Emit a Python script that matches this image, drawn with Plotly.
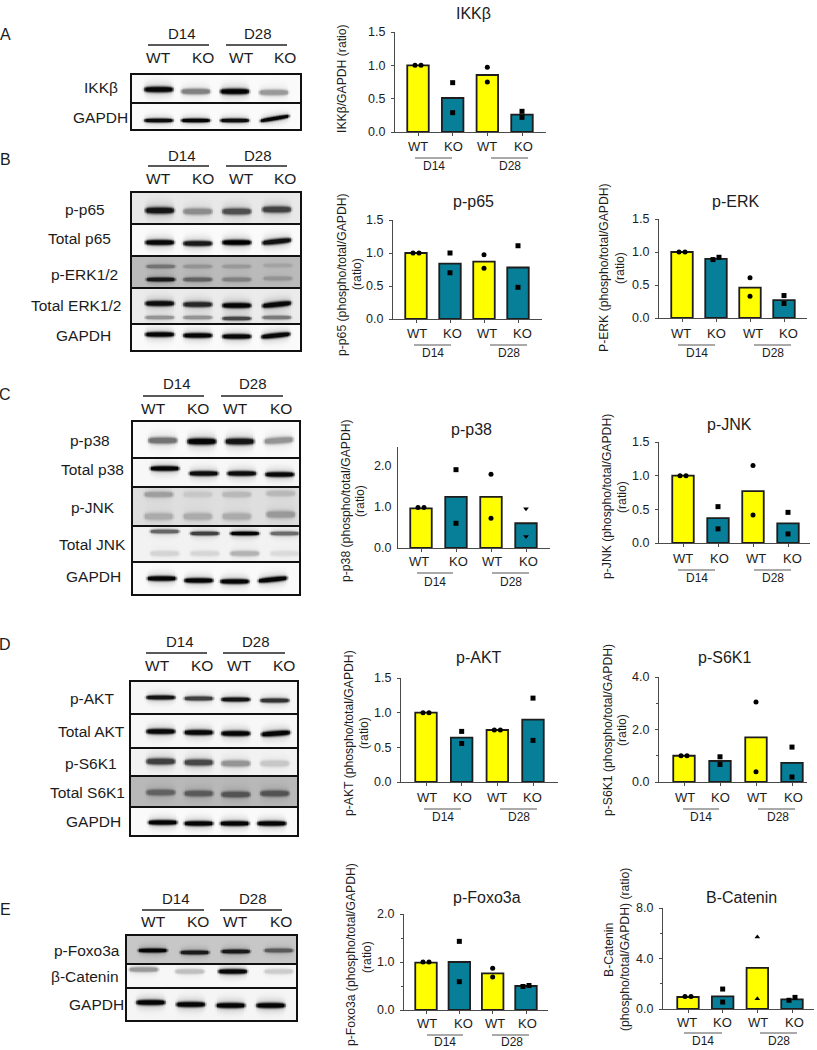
import numpy as np
import plotly.graph_objects as go

W, H = 817, 1050
FONT = "Liberation Sans"
INK = "#1c1c1c"
AXIS = "#4a4a4a"
YELLOW = "#FFFF00"
TEAL = "#087F99"

# ---------- bar chart data ----------
bar_ikkb = [1.00, 0.51, 0.855, 0.26]
pts_ikkb = [[1.00, 1.00], [0.74, 0.29], [0.97, 0.75], [0.31, 0.22]]
bar_p65 = [1.00, 0.84, 0.87, 0.78]
pts_p65 = [[1.00, 1.00], [1.00, 0.70], [0.975, 0.77], [1.11, 0.48]]
bar_erk = [1.00, 0.895, 0.46, 0.27]
pts_erk = [[1.00, 1.00], [0.885, 0.92], [0.61, 0.33], [0.34, 0.22]]
bar_p38 = [0.96, 1.24, 1.24, 0.60]
pts_p38 = [[0.98, 0.98], [1.90, 0.60], [1.79, 0.72], [0.95, 0.28]]
bar_jnk = [1.00, 0.37, 0.77, 0.29]
pts_jnk = [[1.00, 1.00], [0.54, 0.21], [1.15, 0.415], [0.455, 0.135]]
bar_akt = [1.00, 0.64, 0.75, 0.90]
pts_akt = [[1.00, 1.00], [0.73, 0.555], [0.75, 0.75], [1.21, 0.60]]
bar_s6k = [1.00, 0.80, 1.70, 0.73]
pts_s6k = [[1.00, 1.00], [0.96, 0.67], [3.05, 0.39], [1.33, 0.19]]
bar_fox = [0.985, 1.00, 0.765, 0.50]
pts_fox = [[1.00, 1.00], [1.43, 0.59], [0.87, 0.69], [0.49, 0.51]]
bar_cat = [0.95, 1.00, 3.25, 0.77]
pts_cat = [[1.00, 1.00], [1.58, 0.55], [5.70, 0.82], [0.69, 0.92]]

genotypes = ["WT", "KO", "WT", "KO"]
days = ["D14", "D28"]
base_symbols = ["circle", "square", "circle", "square"]

# ---------- blot band darkness per lane, 0 white .. 1 black ----------
d_ikkb = [[.97, .50, .98, .40]]
d_gapdh_a = [[.95, .98, .95, .98]]
d_p65 = [[.92, .45, .70, .75]]
d_tp65 = [[.97, .90, 1.0, .93]]
d_perk = [[.55, .42, .40, .36], [.90, .62, .50, .42]]
d_terk = [[.95, .85, .98, .97], [.42, .42, .72, .52]]
d_gapdh_b = [[.98, .98, .97, .97]]
d_p38 = [[.55, .98, .92, .42]]
d_tp38 = [[.98, .95, .95, .97]]
d_pjnk = [[.38, .22, .28, .28], [.33, .33, .33, .40]]
d_tjnk = [[.60, .75, .98, .58], [.17, .16, .30, .14]]
d_gapdh_c = [[.98, .98, .98, .98]]
d_pakt = [[.92, .75, .92, .80]]
d_takt = [[.97, .97, .98, .98]]
d_ps6k = [[.75, .72, .42, .22]]
d_ts6k = [[.62, .65, .68, .68]]
d_gapdh_d = [[.98, .98, .98, .98]]
d_pfox = [[.98, .90, .90, .65]]
d_bcat = [[.40, .25, .97, .20]]
d_gapdh_e = [[.98, .98, .98, .98]]

# ---------- layout of the blots (pixels in the page) ----------
blots = [
    dict(letter="A", letter_y=34, x=(132, 300), head=dict(top=33, rule=45, geno=58, d=(182, 258),
         rules=((148, 209), (226, 287)), g=(158, 203, 241, 285)),
         strips=[
            dict(label="IKKβ", pos=(101, 88), y=(75, 104), bg=.02, d=d_ikkb, lanes=(158, 195, 234, 273),
                 bands=[dict(yc=(89, 91, 91, 92), t=3.2)]),
            dict(label="GAPDH", pos=(100, 117), y=(104, 129), bg=.02, d=d_gapdh_a, lanes=(158, 195, 234, 274),
                 bands=[dict(yc=(120, 120, 120, 118), t=2.3, tilt=(0, 0, 0, -5))]),
         ]),
    dict(letter="B", letter_y=159, x=(132, 300), head=dict(top=155, rule=166, geno=179, d=(182, 258),
         rules=((148, 209), (226, 287)), g=(158, 203, 241, 285)),
         strips=[
            dict(label="p-p65", pos=(85, 210), y=(193, 225), bg=.09, d=d_p65, lanes=(159, 197, 236, 276),
                 bands=[dict(yc=(210, 211, 211, 209), t=3.6)]),
            dict(label="Total p65", pos=(79, 238), y=(225, 257), bg=.02, d=d_tp65, lanes=(159, 197, 236, 276),
                 bands=[dict(yc=(242, 243, 242, 241), t=3, tilt=(0, 0, 0, -3))]),
            dict(label="p-ERK1/2", pos=(84, 275), y=(257, 289), bg=.27, d=d_perk, lanes=(160, 197, 236, 277),
                 bands=[dict(yc=(266, 266, 266, 265), t=2.2), dict(yc=(279, 279, 279, 278), t=2.4)]),
            dict(label="Total ERK1/2", pos=(76, 305), y=(289, 325), bg=.08, d=d_terk, lanes=(159, 197, 236, 276),
                 bands=[dict(yc=(303, 304, 305, 304), t=3, tilt=(0, 0, 0, -3)), dict(yc=(317, 317, 318, 317), t=2.2)]),
            dict(label="GAPDH", pos=(83, 335), y=(325, 350), bg=.02, d=d_gapdh_b, lanes=(159, 197, 236, 275),
                 bands=[dict(yc=(334, 335, 336, 335), t=2.8, tilt=(0, 0, 0, -3))]),
         ]),
    dict(letter="C", letter_y=394, x=(133, 299), head=dict(top=384, rule=396, geno=408, d=(177, 253),
         rules=((143, 204), (221, 283)), g=(153, 198, 236, 281)),
         strips=[
            dict(label="p-p38", pos=(90, 441), y=(422, 459), bg=.02, d=d_p38, lanes=(162, 201, 239, 278),
                 bands=[dict(yc=(440, 441, 441, 440), t=3.6, tilt=(0, 0, 0, -2))]),
            dict(label="Total p38", pos=(92, 470), y=(459, 488), bg=.03, d=d_tp38, lanes=(164, 203, 241, 279),
                 bands=[dict(yc=(468, 473, 473, 474), t=2.8)]),
            dict(label="p-JNK", pos=(93, 507), y=(488, 527), bg=.13, d=d_pjnk, lanes=(158, 197, 236, 280),
                 bands=[dict(yc=(494, 494, 494, 493), t=3.2), dict(yc=(516, 516, 516, 514), t=4)]),
            dict(label="Total JNK", pos=(92, 544), y=(527, 563), bg=.05, d=d_tjnk, lanes=(164, 204, 244, 284),
                 bands=[dict(yc=(531, 533, 533, 533), t=2.3), dict(yc=(553, 553, 553, 553), t=3)]),
            dict(label="GAPDH", pos=(93, 576), y=(563, 594), bg=.02, d=d_gapdh_c, lanes=(161, 198, 234, 272),
                 bands=[dict(yc=(578, 580, 581, 579), t=2.8, tilt=(0, 0, 0, -3))]),
         ]),
    dict(letter="D", letter_y=644, x=(131, 297), head=dict(top=641, rule=653, geno=665, d=(180, 256),
         rules=((146, 207), (223, 285)), g=(157, 202, 239, 284)),
         strips=[
            dict(label="p-AKT", pos=(92, 698), y=(682, 715), bg=.03, d=d_pakt, lanes=(160, 198, 235, 274),
                 bands=[dict(yc=(697, 698, 699, 700), t=2.5)]),
            dict(label="Total AKT", pos=(91, 731), y=(715, 749), bg=.03, d=d_takt, lanes=(160, 198, 235, 275),
                 bands=[dict(yc=(731, 732, 733, 733), t=3, tilt=(0, 0, 0, -2))]),
            dict(label="p-S6K1", pos=(91, 763), y=(749, 777), bg=.05, d=d_ps6k, lanes=(160, 198, 235, 274),
                 bands=[dict(yc=(761, 762, 763, 763), t=3.6)]),
            dict(label="Total S6K1", pos=(87, 792), y=(777, 808), bg=.28, d=d_ts6k, lanes=(160, 198, 235, 274),
                 bands=[dict(yc=(792, 793, 794, 793), t=3.4)]),
            dict(label="GAPDH", pos=(93, 821), y=(808, 835), bg=.02, d=d_gapdh_d, lanes=(162, 198, 234, 271),
                 bands=[dict(yc=(822, 823, 823, 823), t=2.8)]),
         ]),
    dict(letter="E", letter_y=909, x=(127, 296), head=dict(top=898, rule=910, geno=922, d=(176, 253),
         rules=((142, 204), (220, 282)), g=(153, 198, 236, 281)),
         strips=[
            dict(label="p-Foxo3a", pos=(87, 950), y=(936, 965), bg=.22, d=d_pfox, lanes=(152, 194, 235, 278),
                 bands=[dict(yc=(950, 952, 951, 950), t=2.4)]),
            dict(label="β-Catenin", pos=(85, 976), y=(965, 989), bg=.03, d=d_bcat, lanes=(143, 189, 232, 278),
                 bands=[dict(yc=(969, 971, 971, 971), t=2.8)]),
            dict(label="GAPDH", pos=(96, 1004), y=(989, 1020), bg=.04, d=d_gapdh_e, lanes=(150, 190, 230, 270),
                 bands=[dict(yc=(1002, 1004, 1005, 1005), t=3)]),
         ]),
]

# ---------- layout of the bar charts (pixels in the page) ----------
charts = [
    dict(title="IKKβ", tpos=(473, 13), bar=bar_ikkb, pts=pts_ikkb, swarm=(1, 0, 0, 0), ax=(395, 546), ay=(32, 132),
         top=1.5, ticks=[0, .5, 1, 1.5], cx=(418, 453, 487.5, 522), lab=(418, 453, 487, 523), laby=146,
         rule_y=158, rules=((415, 452), (491, 528)), dx=(434, 510), dy=166,
         yt=[("IKKβ/GAPDH (ratio)", 342, 79)]),
    dict(title="p-p65", tpos=(473, 202), bar=bar_p65, pts=pts_p65, swarm=(1, 0, 0, 0), ax=(393, 542), ay=(220, 319),
         top=1.5, ticks=[0, .5, 1, 1.5], cx=(416, 450, 484, 518), lab=(417, 452, 487, 522), laby=333,
         rule_y=345, rules=((414, 451), (490, 527)), dx=(433, 509), dy=353,
         yt=[("p-p65 (phospho/total/GAPDH)", 342, 275), ("(ratio)", 357, 274)]),
    dict(title="p-ERK", tpos=(735, 202), bar=bar_erk, pts=pts_erk, swarm=(1, 1, 0, 0), ax=(659, 807), ay=(219, 318),
         top=1.5, ticks=[0, .5, 1, 1.5], cx=(682, 716, 750, 784), lab=(681, 716, 753, 788), laby=333,
         rule_y=345, rules=((678, 715), (754, 791)), dx=(697, 773), dy=353,
         yt=[("P-ERK (phospho/total/GAPDH)", 604, 268), ("(ratio)", 620, 268)]),
    dict(title="p-p38", tpos=(472, 429), bar=bar_p38, pts=pts_p38, swarm=(1, 0, 0, 0), ax=(398, 550), ay=(447, 548),
         top=2.45, ticks=[0, 1, 2], cx=(421, 456, 491, 526), lab=(419, 458, 492, 528), laby=561, noticks=True,
         sym={3: "triangle-down"}, rule_y=573, rules=((417, 453), (492, 529)), dx=(435, 511), dy=582,
         yt=[("p-p38 (phospho/total/GAPDH)", 346, 501), ("(ratio)", 360, 501)]),
    dict(title="p-JNK", tpos=(729, 424), bar=bar_jnk, pts=pts_jnk, swarm=(1, 0, 0, 0), ax=(659, 810), ay=(442, 543),
         top=1.5, ticks=[0, .5, 1, 1.5], cx=(683, 718, 753, 788), lab=(683, 719, 756, 792), laby=558,
         rule_y=570, rules=((678, 715), (754, 791)), dx=(697, 773), dy=578,
         yt=[("p-JNK (phospho/total/GAPDH)", 607, 497), ("(ratio)", 622, 497)]),
    dict(title="p-AKT", tpos=(479, 657), bar=bar_akt, pts=pts_akt, swarm=(1, 0, 1, 0), ax=(401, 558), ay=(678, 782),
         top=1.5, ticks=[0, .5, 1, 1.5], cx=(426, 462, 498, 533), lab=(427, 462, 497, 532), laby=797,
         rule_y=809, rules=((424, 461), (500, 537)), dx=(443, 519), dy=817,
         yt=[("p-AKT (phospho/total/GAPDH)", 349, 733), ("(ratio)", 364, 733)]),
    dict(title="p-S6K1", tpos=(724, 657), bar=bar_s6k, pts=pts_s6k, swarm=(1, 0, 0, 0), ax=(659, 807), ay=(677, 782),
         top=4, ticks=[0, 2, 4], minor=1, cx=(684, 720, 756, 792), lab=(685, 720, 757, 793), laby=797,
         rule_y=809, rules=((683, 719), (758, 795)), dx=(701, 778), dy=817,
         yt=[("p-S6K1 (phospho/total/GAPDH)", 608, 730), ("(ratio)", 622, 730)]),
    dict(title="p-Foxo3a", tpos=(487, 897), bar=bar_fox, pts=pts_fox, swarm=(1, 0, 0, 1), ax=(404, 548), ay=(914, 1010),
         top=2, ticks=[0, 1, 2], minor=.5, cx=(426, 459, 493, 526), lab=(427, 463, 495, 527), laby=1023,
         rule_y=1035, rules=((427, 463), (492, 529)), dx=(445, 512), dy=1042,
         yt=[("p-Foxo3a (phospho/total/GAPDH)", 351, 955), ("(ratio)", 367, 957)]),
    dict(title="B-Catenin", tpos=(741, 897), bar=bar_cat, pts=pts_cat, swarm=(1, 0, 0, 1), ax=(663, 814), ay=(908, 1009),
         top=8, ticks=[0, 4, 8], minor=2, cx=(688, 723, 757, 792), lab=(687, 722, 758, 794), laby=1022,
         sym={2: "triangle-up"}, rule_y=1033, rules=((684, 722), (760, 797)), dx=(703, 779), dy=1041,
         yt=[("B-Catenin", 609, 950), ("(phospho/total/GAPDH) (ratio)", 625, 950)]),
]


def px(x):
    return x / W


def py(y):
    return 1 - y / H


fig = go.Figure()
annotations, shapes, axes = [], [], {}
n_axes = 0


def new_axes(xdom, ydom):
    global n_axes
    n_axes += 1
    s = "" if n_axes == 1 else str(n_axes)
    return ("x" + s, "y" + s, "xaxis" + s, "yaxis" + s, s,
            [px(xdom[0]), px(xdom[1])], [py(ydom[1]), py(ydom[0])])


def text(t, x, y, size, angle=0, xanchor="center"):
    annotations.append(dict(text=t, x=px(x), y=py(y), xref="paper", yref="paper", showarrow=False,
                            xanchor=xanchor, yanchor="middle", textangle=angle,
                            font=dict(family=FONT, size=size, color=INK)))


def rule(x0, x1, y, width=1.2, color="#222"):
    shapes.append(dict(type="line", xref="paper", yref="paper", x0=px(x0), x1=px(x1), y0=py(y), y1=py(y),
                       line=dict(color=color, width=width)))


def raster(strip, x0, x1):
    """Turn each strip's band darkness into a grey picture for a heatmap."""
    y0, y1 = strip["y"]
    xs = np.arange(x0, x1 + 1.01, 1.5)
    ys = np.arange(y0, y1 + 1.01, 1.0)
    X, Y = np.meshgrid(xs, ys)
    Z = np.full(X.shape, float(strip["bg"]))
    hw = 15.0
    for band, dark in zip(strip["bands"], strip["d"]):
        tilts = band.get("tilt", (0, 0, 0, 0))
        for c, yc, d, tl in zip(strip["lanes"], band["yc"], dark, tilts):
            u = np.abs(X - c) / hw
            wx = np.clip((1.12 - u) / 0.32, 0, 1)
            wx = wx * wx * (3 - 2 * wx)
            yy = yc + tl * (X - c) / (2 * hw)
            thick = band["t"] * (1 - 0.35 * np.clip(u, 0, 1) ** 3)
            wy = np.exp(-np.abs((Y - yy) / thick) ** 2.6)
            halo = 0.18 * np.exp(-((Y - yy) / (thick * 2.4)) ** 2) * wx
            w = np.clip(wx * wy + halo, 0, 1)
            Z = Z + (d - Z) * w
    return xs, ys, np.round(Z, 3)


# ---------- blots ----------
for b in blots:
    text(b["letter"], 5, b["letter_y"], 16)
    h = b["head"]
    for name, cx, (r0, r1) in zip(days, h["d"], h["rules"]):
        text(name, cx, h["top"], 15)
        rule(r0, r1, h["rule"], 1.3)
    for g, gx in zip(genotypes, h["g"]):
        text(g, gx, h["geno"], 15.5)
    for st in b["strips"]:
        xa, ya, xk, yk, s, xd, yd = new_axes(b["x"], st["y"])
        xs, ys, Z = raster(st, *b["x"])
        fig.add_trace(go.Heatmap(x=xs, y=ys, z=Z, xaxis=xa, yaxis=ya, zmin=0, zmax=1, zsmooth="best",
                                 showscale=False, hoverinfo="skip",
                                 colorscale=[[0, "#ffffff"], [1, "#000000"]]))
        axes[xk] = dict(domain=xd, range=list(b["x"]), showgrid=False, zeroline=False, ticks="",
                        showticklabels=False, showline=True, mirror=True, linecolor="#111", linewidth=2,
                        anchor=ya, automargin=False)
        axes[yk] = dict(domain=yd, range=[st["y"][1], st["y"][0]], showgrid=False, zeroline=False, ticks="",
                        showticklabels=False, showline=True, mirror=True, linecolor="#111", linewidth=2,
                        anchor=xa, automargin=False)
        text(st["label"], st["pos"][0], st["pos"][1], 15.5)

# ---------- bar charts ----------
for c in charts:
    xa, ya, xk, yk, s, xd, yd = new_axes(c["ax"], c["ay"])
    cx = c["cx"]
    pitch = (cx[3] - cx[0]) / 3
    to_unit = lambda v: (v - cx[0]) / pitch
    cats = [0, 1, 2, 3]
    fig.add_trace(go.Bar(x=cats, y=c["bar"], xaxis=xa, yaxis=ya, width=21.5 / pitch,
                         marker=dict(color=[YELLOW, TEAL, YELLOW, TEAL], line=dict(color="#1d1d1d", width=1.8)),
                         hoverinfo="skip", showlegend=False))
    xp, yp, sy = [], [], []
    for i, pair in enumerate(c["pts"]):
        off = 3 / pitch if c["swarm"][i] else 0
        xp += [i - off, i + off]
        yp += list(pair)
        sy += [c.get("sym", {}).get(i, base_symbols[i])] * 2
    fig.add_trace(go.Scatter(x=xp, y=yp, xaxis=xa, yaxis=ya, mode="markers", cliponaxis=False,
                             marker=dict(color="#000", size=5, symbol=sy), hoverinfo="skip", showlegend=False))
    axes[xk] = dict(domain=xd, range=[to_unit(c["ax"][0]), to_unit(c["ax"][1])], tickvals=cats,
                    showticklabels=False, ticks="outside", ticklen=3, tickcolor=AXIS, tickwidth=1,
                    showgrid=False, zeroline=False, showline=True, linecolor=AXIS, linewidth=1.2, anchor=ya,
                    automargin=False)
    ya_cfg = dict(domain=yd, range=[0, c["top"]], tickvals=c["ticks"],
                  ticktext=[f"{t:.1f}" for t in c["ticks"]],
                  tickfont=dict(family=FONT, size=12.5, color=INK), showgrid=False, zeroline=False,
                  showline=True, linecolor=AXIS, linewidth=1.2, anchor=xa, automargin=False,
                  ticks="" if c.get("noticks") else "outside", ticklen=3, tickcolor=AXIS, tickwidth=1,
                  ticklabelstandoff=3)
    if "minor" in c:
        ya_cfg["minor"] = dict(tickvals=list(np.arange(0, c["top"] + 1e-9, c["minor"])),
                               ticks="outside", ticklen=2, tickcolor=AXIS, tickwidth=1)
    axes[yk] = ya_cfg
    text(c["title"], c["tpos"][0], c["tpos"][1], 16)
    for g, lx in zip(genotypes, c["lab"]):
        text(g, lx, c["laby"], 13)
    for name, dx, (r0, r1) in zip(days, c["dx"], c["rules"]):
        rule(r0, r1, c["rule_y"], 1, "#555")
        text(name, dx, c["dy"], 12)
    for t, tx, ty in c["yt"]:
        text(t, tx, ty, 12.2, angle=-90)

fig.update_layout(width=W, height=H, autosize=False,
                  margin=dict(l=0, r=0, t=0, b=0, autoexpand=False),
                  paper_bgcolor="white", plot_bgcolor="white", showlegend=False,
                  annotations=annotations, shapes=shapes, **axes)
fig.write_html("out.html", config=dict(displayModeBar=False, responsive=False),
               post_script="document.body.style.margin='0';document.documentElement.style.overflow='hidden';")
